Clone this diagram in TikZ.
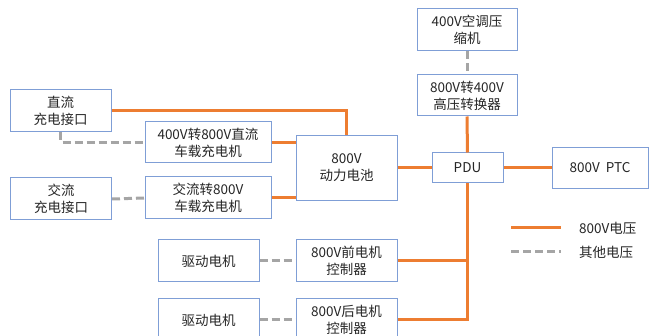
\documentclass[tikz,border=0pt]{standalone}
\usepackage{fontspec}
\setmainfont{Noto Sans CJK SC}
\usepackage{tikz}
\usetikzlibrary{positioning,calc}
\usepackage{xcolor}
\definecolor{boxblue}{HTML}{7F9ED6}
\definecolor{hvorange}{HTML}{ED7D31}
\definecolor{lvgray}{HTML}{A5A5A5}

\begin{document}
\begin{tikzpicture}[
  x=1pt, y=-1pt,
  every node/.style={font=\fontsize{13.5}{17}\selectfont, align=center,
    inner sep=0pt, text=black!85},
  unit/.style={draw=boxblue, line width=1pt, fill=white,
    minimum width=101pt, minimum height=42pt},
  hv/.style={draw=hvorange, line width=3pt},
  lv/.style={draw=lvgray, line width=3pt, dash pattern=on 8pt off 4pt}
]
  \clip (0,0) rectangle (650,336);
  \fill[white] (0,0) rectangle (650,336);

  \node[unit] (dcport) at (60.5,111)   {直流\\充电接口};
  \node[unit, minimum width=126pt, minimum height=41pt]
              (dcobc)  at (208,142.5)  {400V转800V直流\\车载充电机};
  \node[unit] (acport) at (61,199)     {交流\\充电接口};
  \node[unit, minimum width=126pt]
              (acobc)  at (208,198)    {交流转800V\\车载充电机};
  \node[unit, minimum height=65pt]
              (batt)   at (346.5,168)  {800V\\动力电池};
  \node[unit, minimum width=71pt, minimum height=30pt]
              (pdu)    at (467.5,168)  {PDU};
  \node[unit, minimum width=96pt, minimum height=41pt]
              (ptc)    at (600,168)    {800V\ \ PTC};
  \node[unit, minimum width=100pt]
              (comp)   at (467,30)     {400V空调压\\缩机};
  \node[unit, minimum width=100pt, minimum height=41pt]
              (conv)   at (467,95.5)   {800V转400V\\高压转换器};
  \node[unit] (motorf) at (208.5,261)  {驱动电机};
  \node[unit] (ctrlf)  at (346.5,261)  {800V前电机\\控制器};
  \node[unit] (motorr) at (208.5,320)  {驱动电机};
  \node[unit] (ctrlr)  at (346.5,320)  {800V后电机\\控制器};

  \draw[hv] (dcport.east) -| (batt.north);
  \draw[hv] (dcobc.east) -- (dcobc.east -| batt.west);
  \draw[hv] (acobc.east) -- (acobc.east -| batt.west);
  \draw[hv] (batt.east) -- (pdu.west);
  \draw[hv] (pdu.east) -- (ptc.west);
  \draw[hv] (pdu.north) -- (conv.south);
  \draw[hv] (pdu.south) |- (ctrlr.east);
  \draw[hv] (ctrlf.east) -- (ctrlf.east -| pdu.south);

  \draw[lv] (dcport.south) |- (dcobc.west);
  \draw[lv] (acport.east) -- (acobc.west);
  \draw[lv] (comp.south) -- (conv.north);
  \draw[lv] (motorf.east) -- (ctrlf.west);
  \draw[lv] (motorr.east) -- (ctrlr.west);

  \coordinate (hvkeyA) at (511,228);
  \coordinate (hvkeyB) at (561,228);
  \coordinate (lvkeyA) at (511,252);
  \coordinate (lvkeyB) at (561,252);
  \draw[hv] (hvkeyA) -- (hvkeyB);
  \draw[lv] (lvkeyA) -- (lvkeyB);
  \node[anchor=west] (hvtext) at (579,228) {800V电压};
  \node[anchor=west] (lvtext) at (579,252) {其他电压};
\end{tikzpicture}
\end{document}
